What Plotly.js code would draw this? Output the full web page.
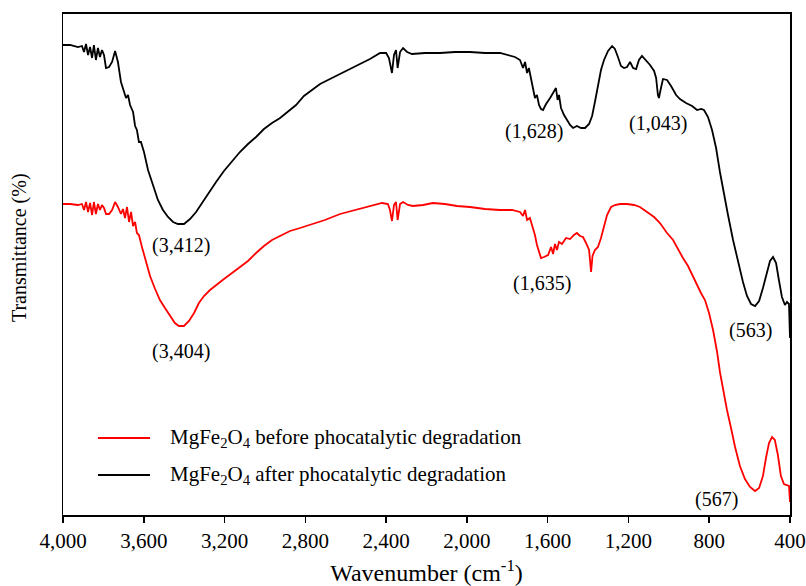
<!DOCTYPE html>
<html>
<head>
<meta charset="utf-8">
<script src="https://cdn.plot.ly/plotly-3.0.1.min.js"></script>
<style>html,body{margin:0;padding:0;background:#fff;}#chart{width:806px;height:586px;}</style>
</head>
<body>
<div id="chart"></div>
<script>
// Wavenumber (cm-1) and transmittance (arbitrary %, offset curves)
const afterWn = [4000,3965,3926,3906,3896,3886,3876,3866,3856,3847,3837,3827,3817,3807,3797,3787,3772,3757,3742,3728,3713,3698,3688,3678,3668,3653,3643,3634,3624,3614,3599,3579,3554,3530,3505,3480,3455,3431,3401,3371,3341,3312,3282,3242,3203,3163,3124,3084,3044,3005,2965,2925,2886,2846,2807,2767,2727,2678,2628,2579,2529,2480,2430,2400,2386,2371,2361,2351,2343,2331,2316,2296,2272,2207,2133,2059,1985,1910,1836,1796,1762,1737,1722,1712,1702,1693,1683,1673,1663,1653,1643,1633,1623,1608,1588,1569,1559,1551,1544,1534,1519,1504,1489,1474,1455,1435,1415,1395,1380,1366,1351,1336,1321,1301,1281,1267,1252,1237,1222,1207,1192,1177,1162,1148,1133,1113,1093,1073,1063,1054,1049,1039,1029,1009,989,964,945,915,885,860,840,826,806,786,766,747,727,707,682,657,633,613,593,573,553,534,514,499,484,469,455,440,425,415,405,400];
const afterT = [94.0,94.0,93.6,93.8,92.6,94.2,92.0,93.6,91.4,94.0,91.0,93.4,91.6,93.0,92.0,89.4,89.6,90.6,92.8,90.6,86.6,84.6,83.4,84.0,82.0,80.6,77.8,77.0,74.6,74.6,72.6,69.0,65.8,63.0,61.0,59.6,58.6,58.2,58.2,59.2,60.6,62.4,64.2,66.6,68.8,70.8,72.6,74.2,75.6,77.2,78.4,79.4,80.6,82.0,83.8,85.0,86.2,87.2,88.2,89.2,90.2,91.2,92.4,92.4,91.4,88.4,92.0,93.0,89.4,92.6,93.4,92.6,92.2,92.4,92.4,92.6,92.6,92.4,92.4,92.0,91.6,91.0,89.4,90.6,88.4,89.4,87.0,85.4,83.4,84.0,82.0,81.2,81.0,82.2,83.4,84.6,85.4,83.0,84.0,81.4,80.0,79.0,78.0,77.4,77.8,77.4,77.4,78.2,79.8,82.6,86.0,89.0,91.0,92.8,93.8,93.2,91.6,89.8,89.4,89.6,90.6,89.4,89.2,91.0,91.8,91.0,90.0,88.8,87.4,84.0,83.4,85.4,87.2,87.0,85.8,84.0,83.2,82.4,81.8,81.0,81.2,81.0,79.6,77.0,73.4,68.6,64.0,60.0,55.0,50.6,46.6,43.8,42.2,41.8,42.8,45.4,48.6,50.8,51.6,50.4,47.0,43.6,42.0,42.6,42.2,35.4];

const beforeWn = [4000,3965,3926,3906,3896,3886,3876,3866,3856,3847,3837,3827,3817,3807,3797,3787,3772,3757,3742,3728,3713,3703,3693,3683,3673,3663,3653,3643,3634,3624,3609,3589,3569,3544,3520,3495,3470,3446,3426,3401,3376,3351,3327,3302,3272,3242,3203,3163,3124,3084,3044,3005,2965,2925,2876,2826,2767,2703,2628,2554,2480,2420,2391,2381,2371,2361,2351,2343,2331,2316,2292,2267,2217,2168,2109,2049,1985,1910,1836,1777,1737,1722,1712,1702,1688,1673,1663,1653,1643,1633,1618,1598,1583,1573,1564,1554,1544,1529,1509,1489,1470,1455,1440,1425,1410,1395,1385,1378,1366,1351,1336,1321,1306,1286,1267,1242,1207,1172,1143,1108,1073,1044,1009,979,955,930,905,880,860,841,821,801,781,761,747,732,712,692,672,648,623,598,573,553,534,519,504,489,475,460,445,430,415,405,400];
const beforeT = [62.2,62.2,62.0,62.2,61.0,62.6,60.6,62.4,60.0,62.6,60.2,62.2,61.0,62.0,61.4,60.2,60.2,61.0,62.6,61.6,60.2,61.2,59.4,61.6,58.6,60.6,57.8,58.6,56.4,56.0,53.6,50.4,47.8,45.2,43.0,41.4,39.8,38.4,37.8,37.8,38.8,40.4,42.4,43.8,45.0,46.0,47.2,48.4,49.6,50.8,52.4,53.8,55.0,55.8,56.8,57.4,58.2,59.0,60.2,61.0,61.8,62.4,62.2,61.0,58.8,62.0,62.6,59.0,62.2,62.6,62.0,61.8,62.0,62.4,62.2,61.8,61.6,61.2,61.0,61.0,60.6,59.8,61.0,59.0,59.4,57.4,56.0,54.0,52.4,51.4,51.6,52.0,53.6,52.2,54.2,53.0,54.6,54.2,55.4,55.2,56.0,56.4,55.8,55.6,54.4,53.0,48.6,51.8,53.0,53.6,55.4,58.0,60.0,61.6,62.0,62.2,62.2,62.0,61.6,60.6,59.6,58.4,56.4,55.0,53.2,51.4,49.8,47.6,45.8,44.4,43.0,40.4,37.0,32.6,28.6,25.0,21.0,17.4,13.6,9.8,7.2,5.6,4.8,5.4,7.8,11.4,14.4,15.6,15.0,12.0,7.8,6.2,6.0,5.8,2.6];

const seriesNames = ['MgFe<sub>2</sub>O<sub>4</sub> before phocatalytic degradation',
                     'MgFe<sub>2</sub>O<sub>4</sub> after phocatalytic degradation'];
const seriesColors = ['#ff0000', '#000000'];

// Peak labels
const peakLabels = ['(3,412)', '(3,404)', '(1,628)', '(1,635)', '(1,043)', '(563)', '(567)'];
const peakWn =     [3416, 3416, 1668, 1628, 1052, 598, 766];
const peakT =      [54.0, 32.8, 76.8, 46.4, 78.4, 37.0, 3.2];

const tickVals = [4000,3600,3200,2800,2400,2000,1600,1200,800,400];

const FONT = 'Liberation Serif, Times New Roman, serif';

const traces = [
  {x: beforeWn, y: beforeT, type: 'scatter', mode: 'lines', name: seriesNames[0],
   line: {color: seriesColors[0], width: 1.8}, showlegend: false, hoverinfo: 'skip'},
  {x: afterWn, y: afterT, type: 'scatter', mode: 'lines', name: seriesNames[1],
   line: {color: seriesColors[1], width: 1.8}, showlegend: false, hoverinfo: 'skip'}
];

const annotations = peakLabels.map((t, i) => ({
  x: peakWn[i], y: peakT[i], xref: 'x', yref: 'y', text: t, showarrow: false,
  font: {family: FONT, size: 20, color: '#000'}, xanchor: 'center', yanchor: 'middle'
}));

// custom legend
const legY = [0.1537, 0.0798];
const shapes = [];
seriesNames.forEach((n, i) => {
  shapes.push({type: 'line', xref: 'paper', yref: 'paper', x0: 0.0481, x1: 0.1197,
               y0: legY[i], y1: legY[i], line: {color: seriesColors[i], width: 2}});
  annotations.push({xref: 'paper', yref: 'paper', x: 0.1445, y: legY[i], text: n,
    showarrow: false, xanchor: 'left', yanchor: 'middle',
    font: {family: FONT, size: 21, color: '#000'}});
});

// y-axis title
annotations.push({xref: 'paper', yref: 'paper', x: -0.059, y: 0.533, text: 'Transmittance (%)',
  textangle: -90, showarrow: false, xanchor: 'center', yanchor: 'middle',
  font: {family: FONT, size: 20, color: '#000'}});

const layout = {
  width: 806, height: 586,
  margin: {l: 63, r: 16, t: 14, b: 71},
  paper_bgcolor: '#fff', plot_bgcolor: '#fff',
  font: {family: FONT, size: 20, color: '#000'},
  separators: '.,',
  showlegend: false,
  xaxis: {
    range: [4000, 400], tickvals: tickVals, tickformat: ',d',
    ticks: 'outside', ticklen: 6, tickwidth: 1.5, tickcolor: '#000',
    showline: true, linecolor: '#000', linewidth: 1.8, mirror: true,
    showgrid: false, zeroline: false,
    tickfont: {family: FONT, size: 21, color: '#000'},
    title: {text: 'Wavenumber (cm<sup>-1</sup>)', font: {family: FONT, size: 24, color: '#000'}, standoff: 12}
  },
  yaxis: {
    range: [0, 100.2], showticklabels: false, ticks: '',
    showline: true, linecolor: '#000', linewidth: 1.5, mirror: true,
    showgrid: false, zeroline: false
  },
  shapes: shapes,
  annotations: annotations
};

Plotly.newPlot('chart', traces, layout, {displayModeBar: false, staticPlot: true});
</script>
</body>
</html>
